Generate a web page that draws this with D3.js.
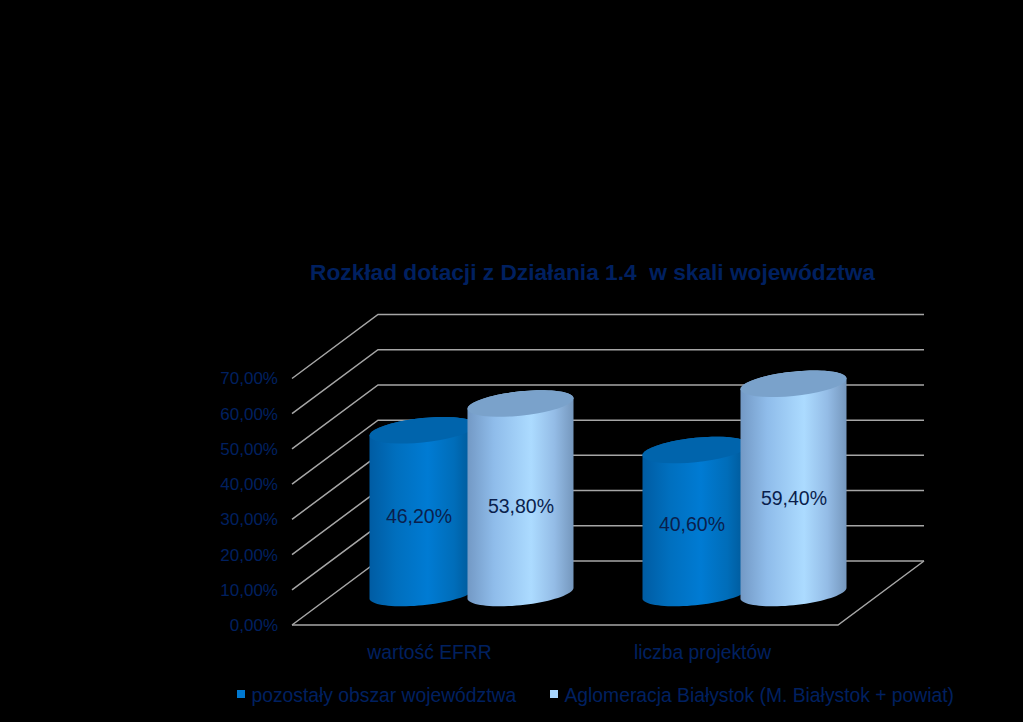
<!DOCTYPE html>
<html><head><meta charset="utf-8">
<script src="https://cdn.jsdelivr.net/npm/d3@7"></script>
<style>html,body{margin:0;padding:0;background:#000}svg{display:block}text{font-family:"Liberation Sans",Arial,sans-serif}</style>
</head><body><div id="c"></div>
<script>
const categories = ["wartość EFRR", "liczba projektów"];
const seriesNames = ["pozostały obszar województwa", "Aglomeracja Białystok (M. Białystok + powiat)"];
const seriesA = [46.2, 40.6];
const seriesB = [53.8, 59.4];
const tickValues = [0, 10, 20, 30, 40, 50, 60, 70];
const tickLabels = ["0,00%", "10,00%", "20,00%", "30,00%", "40,00%", "50,00%", "60,00%", "70,00%"];
const title = "Rozkład dotacji z Działania 1.4  w skali województwa";
const W = 1023, H = 722, navy = "#002060", grid = "#a6a6a6";
const dx = 86, dy = -64;
const x = d3.scaleBand().domain(categories).range([292, 838]);
const y = d3.scaleLinear().domain([0, 70]).range([625, 378.5]);
const svg = d3.select("#c").append("svg").attr("width", W).attr("height", H);
svg.append("rect").attr("width", W).attr("height", H).attr("fill", "#000");
const defs = svg.append("defs");
function grad(id, stops) {
  const g = defs.append("linearGradient").attr("id", id);
  stops.forEach(s => g.append("stop").attr("offset", s[0]).attr("stop-color", s[1]));
}
grad("gA", [[0, "#005ca3"], [0.25, "#006fbe"], [0.55, "#007bd3"], [0.8, "#006db9"], [1, "#005593"]]);
grad("gB", [[0, "#7399c5"], [0.25, "#8fbcea"], [0.6, "#acdbff"], [0.82, "#94bce6"], [1, "#7597bd"]]);

svg.append("text").attr("x", 592.5).attr("y", 280).attr("text-anchor", "middle")
  .attr("font-size", 22.7).attr("font-weight", "bold").attr("fill", navy).style("white-space", "pre").text(title);

// walls and floor
const g = svg.append("g").attr("fill", "none").attr("stroke", grid).attr("stroke-width", 1.5);
tickValues.forEach(v => {
  g.append("path").attr("d", d3.line()([[292, y(v)], [292 + dx, y(v) + dy], [838 + dx, y(v) + dy]]));
});
g.append("path").attr("d", d3.line()([[292, y(0)], [838, y(0)], [838 + dx, y(0) + dy]]));

// y labels via axis
const axis = d3.axisLeft(y).tickValues(tickValues).tickSize(0).tickPadding(14)
  .tickFormat((d, i) => tickLabels[i]);
const ag = svg.append("g").attr("transform", "translate(292,0)").call(axis);
ag.select(".domain").remove();
ag.selectAll("text").attr("font-size", 17).attr("fill", navy).style("font-family", '"Liberation Sans",Arial,sans-serif');

// x labels
svg.append("g").selectAll("text").data(categories).join("text")
  .attr("x", d => x(d) + x.bandwidth() / 2 + 1).attr("y", 659).attr("text-anchor", "middle")
  .attr("font-size", 19.3).attr("fill", navy).text(d => d);

// cylinders
const rx = 53, ry = 12.2, skew = 0.1, gap = 49;
function ell(cx, cy, a0, a1) {
  const pts = d3.range(0, 41).map(i => {
    const t = a0 + (a1 - a0) * i / 40;
    return [cx + rx * Math.cos(t), cy + ry * Math.sin(t) - skew * rx * Math.cos(t)];
  });
  return pts;
}
function cylinder(cx, top, bottom, fillId, capColor) {
  const lower = ell(cx, bottom, 0, Math.PI);
  const upper = ell(cx, top, Math.PI, 2 * Math.PI);
  svg.append("path").attr("d", d3.line()(lower.concat(upper)) + "Z").attr("fill", `url(#${fillId})`);
  svg.append("path").attr("d", d3.line()(ell(cx, top, 0, 2 * Math.PI)) + "Z").attr("fill", capColor);
}
const floorY = v => y(v) + dy / 2;
const series = [
  {vals: seriesA, off: -gap, fill: "gA", cap: "#0064ac", text: -3.5},
  {vals: seriesB, off: gap, fill: "gB", cap: "#7aa2cb", text: 0.5}
];
series.forEach(s => {
  categories.forEach((c, i) => {
    const cx = x(c) + x.bandwidth() / 2 + dx / 2 + s.off;
    cylinder(cx, floorY(s.vals[i]), floorY(0), s.fill, s.cap);
  });
});
series.forEach(s => {
  categories.forEach((c, i) => {
    const cx = x(c) + x.bandwidth() / 2 + dx / 2 + s.off + s.text;
    const h = y(0) - y(s.vals[i]);
    svg.append("text").attr("x", cx).attr("y", y(0) - 45 - 0.39 * h + 6.5)
      .attr("text-anchor", "middle").attr("font-size", 19.5).attr("fill", "#0a1f4d")
      .text(String(s.vals[i].toFixed(2)).replace(".", ",") + "%");
  });
});

// legend
const legendX = [237, 550];
const legendFill = ["#0078d0", "#a8d6ff"];
seriesNames.forEach((n, i) => {
  svg.append("rect").attr("x", legendX[i]).attr("y", 690).attr("width", 8).attr("height", 8).attr("fill", legendFill[i]);
  svg.append("text").attr("x", legendX[i] + 14.5).attr("y", 702).attr("font-size", 19.3).attr("fill", navy).text(n);
});
</script></body></html>
